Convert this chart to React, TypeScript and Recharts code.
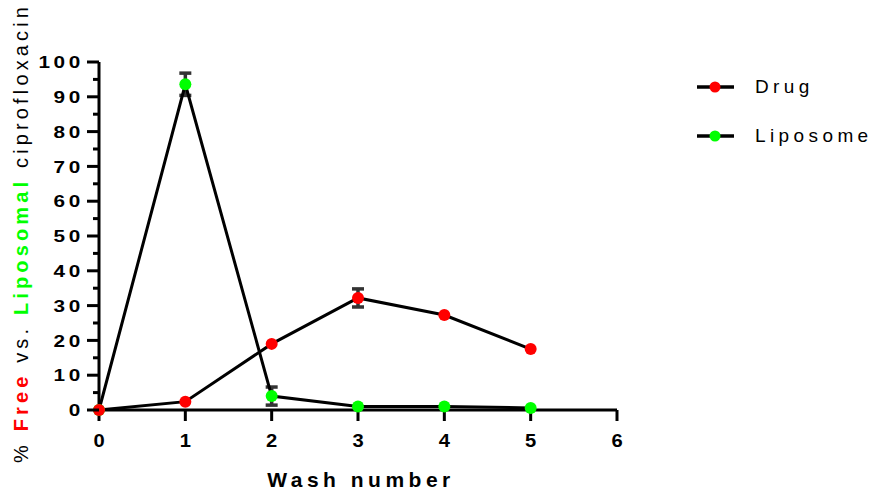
import React from 'react';
import { LineChart, Line, XAxis, YAxis, ErrorBar } from 'recharts';

const washNumbers = [0, 1, 2, 3, 4, 5];
const drugValues = [0, 2.4, 19, 32.2, 27.3, 17.5];
const drugErrors = [null, null, null, 2.6, null, null];
const liposomeValues = [0, 93.6, 4.0, 1.0, 1.0, 0.6];
const liposomeErrors = [null, 3.2, 2.6, null, null, null];
const xTicks = [0, 1, 2, 3, 4, 5, 6];
const yTicks = [0, 5, 10, 15, 20, 25, 30, 35, 40, 45, 50, 55, 60, 65, 70, 75, 80, 85, 90, 95, 100];
const seriesNames = ['Drug', 'Liposome'];

const RED = '#ff0000';
const GREEN = '#00ff00';
const FONT = '"Liberation Sans", Arial, sans-serif';

const data = washNumbers.map((w, i) => ({
  wash: w,
  drug: drugValues[i],
  drugErr: drugErrors[i],
  lipo: liposomeValues[i],
  lipoErr: liposomeErrors[i],
}));

const Y_TICK_SIZE = 12;
const Y_TICK_MARGIN = 8;

function YTick(props: any) {
  const { x, y, payload } = props;
  const axisX = x + Y_TICK_SIZE + Y_TICK_MARGIN;
  const major = payload.value % 10 === 0;
  return (
    <g>
      <line x1={axisX - (major ? 12 : 6)} x2={axisX} y1={y} y2={y} stroke="#000" strokeWidth={3} />
      {major && (
        <text
          transform={`translate(${axisX - 15},${y}) scale(1.22,1)`}
          x={0}
          y={0}
          dy="0.36em"
          textAnchor="end"
          fontFamily={FONT}
          fontWeight="bold"
          fontSize={17}
          letterSpacing={3}
          fill="#000"
        >
          {payload.value}
        </text>
      )}
    </g>
  );
}

function XTick(props: any) {
  const { x, y, payload } = props;
  return (
    <text
      transform={`translate(${x},${y}) scale(1.12,1)`}
      x={0}
      y={0}
      dy="0.71em"
      textAnchor="middle"
      fontFamily={FONT}
      fontWeight="bold"
      fontSize={18}
      fill="#000"
    >
      {payload.value}
    </text>
  );
}

function YTitle() {
  return (
    <text
      transform="rotate(-90)"
      x={-463}
      y={28}
      textAnchor="start"
      fontFamily={FONT}
      fontSize={20}
      letterSpacing={4.15}
      fill="#000"
    >
      <tspan>% </tspan>
      <tspan fill={RED} fontWeight="bold">Free</tspan>
      <tspan> vs. </tspan>
      <tspan fill={GREEN} fontWeight="bold">Liposomal</tspan>
      <tspan> ciprofloxacin</tspan>
    </text>
  );
}

function XTitle() {
  return (
    <text x={361} y={487} textAnchor="middle" fontFamily={FONT} fontSize={21} fontWeight="bold" letterSpacing={4.5} fill="#000">
      Wash number
    </text>
  );
}

function LegendBox() {
  const colors = [RED, GREEN];
  return (
    <div style={{ position: 'absolute', left: 697, top: 75, fontFamily: FONT }}>
      {seriesNames.map((n, i) => (
        <div key={n} style={{ display: 'flex', alignItems: 'center', height: 24, marginBottom: i === 0 ? 25 : 0 }}>
          <svg width={40} height={14} style={{ display: 'block' }}>
            <line x1={0} x2={37} y1={7} y2={7} stroke="#000" strokeWidth={3.5} />
            <circle cx={18} cy={7} r={5.5} fill={colors[i]} />
          </svg>
          <span style={{ marginLeft: 18, fontSize: 19, letterSpacing: 4.4, color: '#000' }}>{n}</span>
        </div>
      ))}
    </div>
  );
}

export default function App() {
  return (
    <div style={{ position: 'absolute', left: 0, top: 0, width: 872, height: 490, background: '#fff' }}>
      <LineChart width={872} height={490} data={data} margin={{ top: 62, right: 255, bottom: 0, left: 0 }}>
        <XAxis
          dataKey="wash"
          type="number"
          domain={[0, 6]}
          ticks={xTicks}
          height={80}
          axisLine={{ stroke: '#000', strokeWidth: 3 }}
          tickLine={{ stroke: '#000', strokeWidth: 3 }}
          tickSize={11}
          tickMargin={13}
          tick={<XTick />}
          interval={0}
          label={<XTitle />}
        />
        <YAxis
          type="number"
          domain={[0, 100]}
          ticks={yTicks}
          width={99}
          axisLine={{ stroke: '#000', strokeWidth: 3 }}
          tickLine={false}
          tickSize={Y_TICK_SIZE}
          tickMargin={Y_TICK_MARGIN}
          tick={<YTick />}
          interval={0}
          label={<YTitle />}
        />
        <Line
          dataKey="lipo"
          name={seriesNames[1]}
          type="linear"
          stroke="#000"
          strokeWidth={3}
          dot={{ r: 6, fill: GREEN, stroke: GREEN, strokeWidth: 0 }}
          isAnimationActive={false}
        >
          <ErrorBar dataKey="lipoErr" direction="y" width={6} stroke="#333" strokeWidth={3.5} />
        </Line>
        <Line
          dataKey="drug"
          name={seriesNames[0]}
          type="linear"
          stroke="#000"
          strokeWidth={3}
          dot={{ r: 6, fill: RED, stroke: RED, strokeWidth: 0 }}
          isAnimationActive={false}
        >
          <ErrorBar dataKey="drugErr" direction="y" width={6} stroke="#333" strokeWidth={3.5} />
        </Line>
      </LineChart>
      <LegendBox />
    </div>
  );
}
